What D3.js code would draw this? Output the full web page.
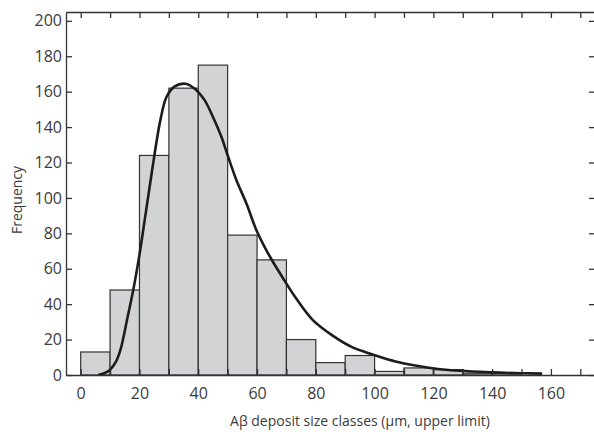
<!DOCTYPE html>
<html>
<head>
<meta charset="utf-8">
<script src="https://cdn.jsdelivr.net/npm/d3@7"></script>
<style>
  body { margin: 0; background: #fff; }
  text { font-family: "Open Sans", sans-serif; fill: #3b3b3b; }
</style>
</head>
<body>
<svg id="chart" width="594" height="432"></svg>
<script>
// histogram classes (lower edge of each 10 µm class) and their counts
const binStarts = [0, 10, 20, 30, 40, 50, 60, 70, 80, 90, 100, 110, 120, 130, 140, 150]
const counts    = [13, 48, 124, 162, 175, 79, 65, 20, 7, 11, 2, 4, 3, 1, 1, 0]
const binWidth = 10

// fitted curve
const curveX = [6, 8, 10, 12, 13.5, 16, 18, 20, 22, 24.3, 27.1, 29.2, 32, 35.6, 38.8, 42.2, 45, 47.9, 50.2, 53, 56.4, 59.8, 63.8, 68.9, 73.4, 79, 85.5, 92, 99.5, 107.5, 119, 129, 140, 150, 157]
const curveY = [0, 1, 3, 7.5, 14, 33, 49, 68, 90, 115.6, 143.8, 157, 163, 164.5, 161.7, 155.1, 145.7, 134.4, 123.1, 110, 96.8, 81.8, 68.6, 54.5, 43, 31, 22.5, 16, 11.5, 7.5, 4, 2.4, 1.5, 1, 0.8]

const xTicks = d3.range(0, 180, 20)
const xMinor = d3.range(0, 180, 10)
const yTicks = d3.range(0, 220, 20)

const svg = d3.select('#chart')

const x = d3.scaleLinear()
    .domain([-5, 175])
    .range([66, 595])
const y = d3.scaleLinear()
    .domain([0, 205])
    .range([375, 12])

// bars
svg.append('g')
    .selectAll('rect')
    .data(counts)
    .enter()
    .append('rect')
        .attr('x', (d, i) => x(binStarts[i]))
        .attr('y', d => y(d))
        .attr('width', x(binWidth) - x(0))
        .attr('height', d => y(0) - y(d))
        .style('fill', '#d1d3d4')
        .style('stroke', '#333')
        .style('stroke-width', 1.2)

// curve
const pts = curveX.map((v, i) => [v, curveY[i]])
svg.append('path')
    .datum(pts)
    .attr('d', d3.line()
        .x(d => x(d[0]))
        .y(d => y(d[1]))
        .curve(d3.curveCatmullRom))
    .style('fill', 'none')
    .style('stroke', '#1f1b1c')
    .style('stroke-width', 2.6)

// axes: ticks point inward on all four sides
svg.append('g')
    .attr('transform', `translate(0, ${y(0)})`)
    .call(d3.axisBottom(x).tickValues(xMinor).tickSizeInner(-6).tickSizeOuter(0).tickFormat(''))
const bottomLabels = svg.append('g')
    .attr('transform', `translate(0, ${y(0)})`)
    .call(d3.axisBottom(x).tickValues(xTicks).tickSize(0).tickPadding(13))
bottomLabels.select('.domain').remove()

svg.append('g')
    .attr('transform', `translate(0, ${y(205)})`)
    .call(d3.axisTop(x).tickValues(xMinor).tickSizeInner(-6).tickSizeOuter(0).tickFormat(''))

const leftAxis = svg.append('g')
    .attr('transform', `translate(${x(-5)}, 0)`)
    .call(d3.axisLeft(y).tickValues(yTicks).tickSizeInner(-6).tickSizeOuter(0).tickPadding(5))

svg.append('g')
    .attr('transform', `translate(${x(175)}, 0)`)
    .call(d3.axisRight(y).tickValues(yTicks).tickSizeInner(-6).tickSizeOuter(0).tickFormat(''))

svg.selectAll('.domain, .tick line')
    .style('stroke', '#333')
    .style('stroke-width', 1.3)
svg.selectAll('.tick text')
    .style('font-size', '16px')
    .style('fill', '#3b3b3b')
leftAxis.selectAll('.tick text').attr('x', -4)

// axis titles
svg.append('text')
    .attr('x', 360)
    .attr('y', 426)
    .attr('text-anchor', 'middle')
    .style('font-size', '14px')
    .text('Aβ deposit size classes (µm, upper limit)')

svg.append('text')
    .attr('transform', 'translate(22, 200) rotate(-90)')
    .attr('text-anchor', 'middle')
    .style('font-size', '14px')
    .text('Frequency')
</script>
</body>
</html>
